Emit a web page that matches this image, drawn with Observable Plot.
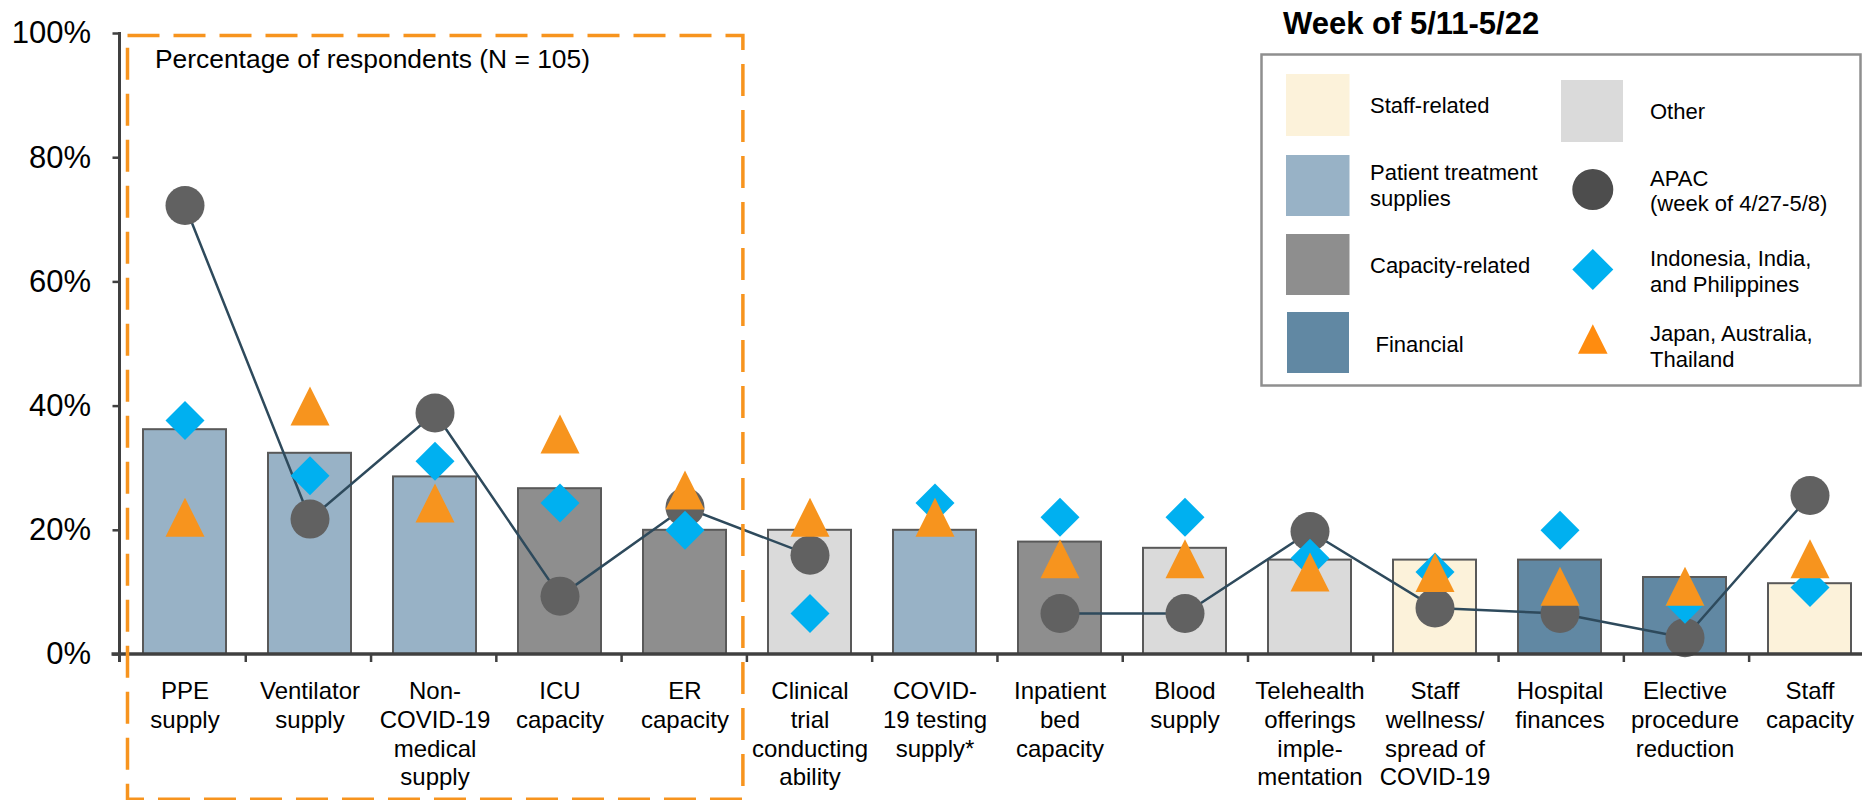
<!DOCTYPE html>
<html>
<head>
<meta charset="utf-8">
<script src="https://cdn.jsdelivr.net/npm/d3@7"></script>
<script src="https://cdn.jsdelivr.net/npm/@observablehq/plot@0.6"></script>
<style>
  html, body { margin: 0; padding: 0; background: #fff; overflow: hidden; }
  #wrap { position: relative; width: 1862px; height: 800px; overflow: hidden; }
  #wrap svg { font-family: "Liberation Sans", Arial, Helvetica, sans-serif; }
  #overlay { position: absolute; left: 0; top: 0; pointer-events: none; }
</style>
</head>
<body>
<div id="wrap"></div>
<script>
// Top hospital concerns, percentage of respondents (N = 105)
const categories = [
  "PPE supply", "Ventilator supply", "Non-COVID-19 medical supply", "ICU capacity",
  "ER capacity", "Clinical trial conducting ability", "COVID-19 testing supply*",
  "Inpatient bed capacity", "Blood supply", "Telehealth offerings implementation",
  "Staff wellness/spread of COVID-19", "Hospital finances", "Elective procedure reduction",
  "Staff capacity"
];
const tickLabels = [
  "PPE\nsupply", "Ventilator\nsupply", "Non-\nCOVID-19\nmedical\nsupply", "ICU\ncapacity",
  "ER\ncapacity", "Clinical\ntrial\nconducting\nability", "COVID-\n19 testing\nsupply*",
  "Inpatient\nbed\ncapacity", "Blood\nsupply", "Telehealth\nofferings\nimple-\nmentation",
  "Staff\nwellness/\nspread of\nCOVID-19", "Hospital\nfinances", "Elective\nprocedure\nreduction",
  "Staff\ncapacity"
];
const groups = [
  "Patient treatment supplies", "Patient treatment supplies", "Patient treatment supplies",
  "Capacity-related", "Capacity-related", "Other", "Patient treatment supplies",
  "Capacity-related", "Other", "Other", "Staff-related", "Financial", "Financial", "Staff-related"
];
// Week of 5/11-5/22, all respondents
const weekShare = [36.2, 32.4, 28.6, 26.7, 20.0, 20.0, 20.0, 18.1, 17.1, 15.2, 15.2, 15.2, 12.4, 11.4];
// APAC, week of 4/27-5/8 (no value for COVID-19 testing supply)
const apacPrior = [72.3, 21.8, 38.9, 9.4, 23.7, 16.0, null, 6.6, 6.6, 19.8, 7.5, 6.6, 2.7, 25.6];
// Indonesia, India, and Philippines
const indIndPhl = [37.7, 28.8, 31.1, 24.4, 20.0, 6.6, 24.4, 22.1, 22.1, 15.5, 13.3, 20.0, 8.1, 10.8];
// Japan, Australia, Thailand
const jpnAusTha = [22.1, 40.0, 24.4, 35.5, 26.5, 22.1, 22.1, 15.4, 15.4, 13.3, 13.2, 11.0, 11.0, 15.4];

const groupNames = ["Staff-related", "Patient treatment supplies", "Capacity-related", "Financial", "Other"];
const groupColors = ["#fcf2da", "#98b2c6", "#8e8e8e", "#6188a3", "#dadada"];
const yTicks = [0, 20, 40, 60, 80, 100];
const subtitle = "Percentage of respondents (N = 105)";
const legendTitle = "Week of 5/11-5/22";

const font = '"Liberation Sans", Arial, Helvetica, sans-serif';
const axisColor = "#404040";

const rows = categories.map((c, i) => ({
  category: c, label: tickLabels[i], group: groups[i],
  share: weekShare[i], apac: apacPrior[i], iip: indIndPhl[i], jat: jpnAusTha[i]
}));
const labelOf = new Map(rows.map(d => [d.category, d.label]));

// Marker shapes sized so that r is half the marker's width and height
const radiusOf = size => Math.sqrt(size / Math.PI);
const symDiamond = {draw(ctx, size) { const r = radiusOf(size);
  ctx.moveTo(0, -r); ctx.lineTo(r, 0); ctx.lineTo(0, r); ctx.lineTo(-r, 0); ctx.closePath(); }};
const symTriangle = {draw(ctx, size) { const r = radiusOf(size);
  ctx.moveTo(0, -r); ctx.lineTo(r, r); ctx.lineTo(-r, r); ctx.closePath(); }};

const W = 1875, H = 800;
const plot = Plot.plot({
  width: W, height: H,
  marginLeft: 120.5, marginRight: 0.6, marginTop: 33, marginBottom: 146,
  style: {fontFamily: font, color: "#000", background: "transparent"},
  x: {domain: categories, paddingInner: 0.334, paddingOuter: 0.167, label: null},
  y: {domain: [0, 100], label: null},
  color: {domain: groupNames, range: groupColors},
  marks: [
    Plot.axisY({ticks: yTicks, tickFormat: d => d + "%", tickSize: 8, tickPadding: 22,
      fontSize: 31, stroke: axisColor, strokeWidth: 2.5, fill: "#000", label: null}),
    Plot.axisX({tickFormat: d => labelOf.get(d), tickSize: 0, tickPadding: 24,
      fontSize: 24, lineHeight: 1.2, fill: "#000", label: null}),
    Plot.barY(rows, {x: "category", y: "share", fill: "group", stroke: "#595959", strokeWidth: 2}),
    Plot.line(rows, {x: "category", y: "apac", stroke: "#2e4a5c", strokeWidth: 2.5}),
    Plot.dot(rows, {x: "category", y: "apac", r: 19.5, fill: "#616161", stroke: "none"}),
    Plot.dot(rows, {x: "category", y: "iip", r: 19.5, symbol: symDiamond, fill: "#00b0f0", stroke: "none"}),
    Plot.dot(rows, {x: "category", y: "jat", r: 19.5, symbol: symTriangle, fill: "#f7941e", stroke: "none"}),
    Plot.text([subtitle], {frameAnchor: "top-left", dx: 34, dy: 16, fontSize: 26.4, fill: "#000", textAnchor: "start"})
  ]
});
plot.style.maxWidth = "none";
plot.style.overflow = "hidden";
document.getElementById("wrap").appendChild(plot);

// Axis lines, tick marks between categories, and the dashed highlight around the first five concerns
const xs = plot.scale("x"), ys = plot.scale("y");
const [r0, r1] = xs.range;
const step = (r1 - r0) / categories.length;
const yOf = v => ys.apply ? ys.apply(v) : (H - 146) - (v / 100) * (H - 146 - 33);
const y0 = yOf(0), y100 = yOf(100);
const svg = d3.select(plot);
const deco = svg.append("g");
deco.append("line").attr("x1", r0 - 1).attr("x2", r0 - 1).attr("y1", y100 - 1).attr("y2", y0 + 8)
  .attr("stroke", axisColor).attr("stroke-width", 3);
deco.append("line").attr("x1", r0 - 9).attr("x2", W).attr("y1", y0).attr("y2", y0)
  .attr("stroke", axisColor).attr("stroke-width", 3.5);
deco.selectAll("line.tk").data(d3.range(1, categories.length)).join("line")
  .attr("class", "tk")
  .attr("x1", k => r0 + k * step).attr("x2", k => r0 + k * step)
  .attr("y1", y0).attr("y2", y0 + 8)
  .attr("stroke", axisColor).attr("stroke-width", 2.5);
deco.append("rect")
  .attr("x", r0 + 7).attr("y", y100 + 2.5)
  .attr("width", 5 * step - 11).attr("height", H - 0.8 - (y100 + 2.5))
  .attr("fill", "none").attr("stroke", "#f7941e").attr("stroke-width", 3.5)
  .attr("stroke-dasharray", "32 14");

// Legend
const lg = d3.select("#wrap").append("svg").attr("id", "overlay")
  .attr("width", 1862).attr("height", 800).style("font-family", font);
lg.append("text").attr("x", 1283).attr("y", 33.5).attr("font-size", 31).attr("font-weight", "bold")
  .attr("fill", "#000").text(legendTitle);
lg.append("rect").attr("x", 1261.5).attr("y", 54.5).attr("width", 599).attr("height", 331)
  .attr("fill", "#fff").attr("stroke", "#8f8f8f").attr("stroke-width", 2.5);

const swatches = [
  {g: 0, x: 1286, y: 74, w: 63.5, h: 62, lines: ["Staff-related"], tx: 1370, ty: [113]},
  {g: 1, x: 1286, y: 155, w: 63.5, h: 61, lines: ["Patient treatment", "supplies"], tx: 1370, ty: [180, 206]},
  {g: 2, x: 1286, y: 234, w: 63.5, h: 61, lines: ["Capacity-related"], tx: 1370, ty: [272.5]},
  {g: 3, x: 1287, y: 312, w: 62, h: 61, lines: ["Financial"], tx: 1375.5, ty: [351.5]},
  {g: 4, x: 1561, y: 80, w: 62, h: 62, lines: ["Other"], tx: 1650, ty: [118.5]}
];
for (const s of swatches) {
  lg.append("rect").attr("x", s.x).attr("y", s.y).attr("width", s.w).attr("height", s.h)
    .attr("fill", groupColors[s.g]);
  s.lines.forEach((t, i) => lg.append("text").attr("x", s.tx).attr("y", s.ty[i])
    .attr("font-size", 22).attr("fill", "#000").text(t));
}
const markerItems = [
  {shape: d3.symbolCircle, r: 20.5, cy: 189.5, fill: "#4d4d4d", lines: ["APAC", "(week of 4/27-5/8)"], ty: [186, 211]},
  {shape: symDiamond, r: 20.5, cy: 269.5, fill: "#00b0f0", lines: ["Indonesia, India,", "and Philippines"], ty: [266, 292]},
  {shape: symTriangle, r: 14.8, cy: 339, fill: "#ff8c0f", lines: ["Japan, Australia,", "Thailand"], ty: [341, 366.5]}
];
for (const m of markerItems) {
  lg.append("path")
    .attr("d", d3.symbol(m.shape, Math.PI * m.r * m.r)())
    .attr("transform", `translate(1592.8,${m.cy})`).attr("fill", m.fill);
  m.lines.forEach((t, i) => lg.append("text").attr("x", 1650).attr("y", m.ty[i])
    .attr("font-size", 22).attr("fill", "#000").text(t));
}
</script>
</body>
</html>
